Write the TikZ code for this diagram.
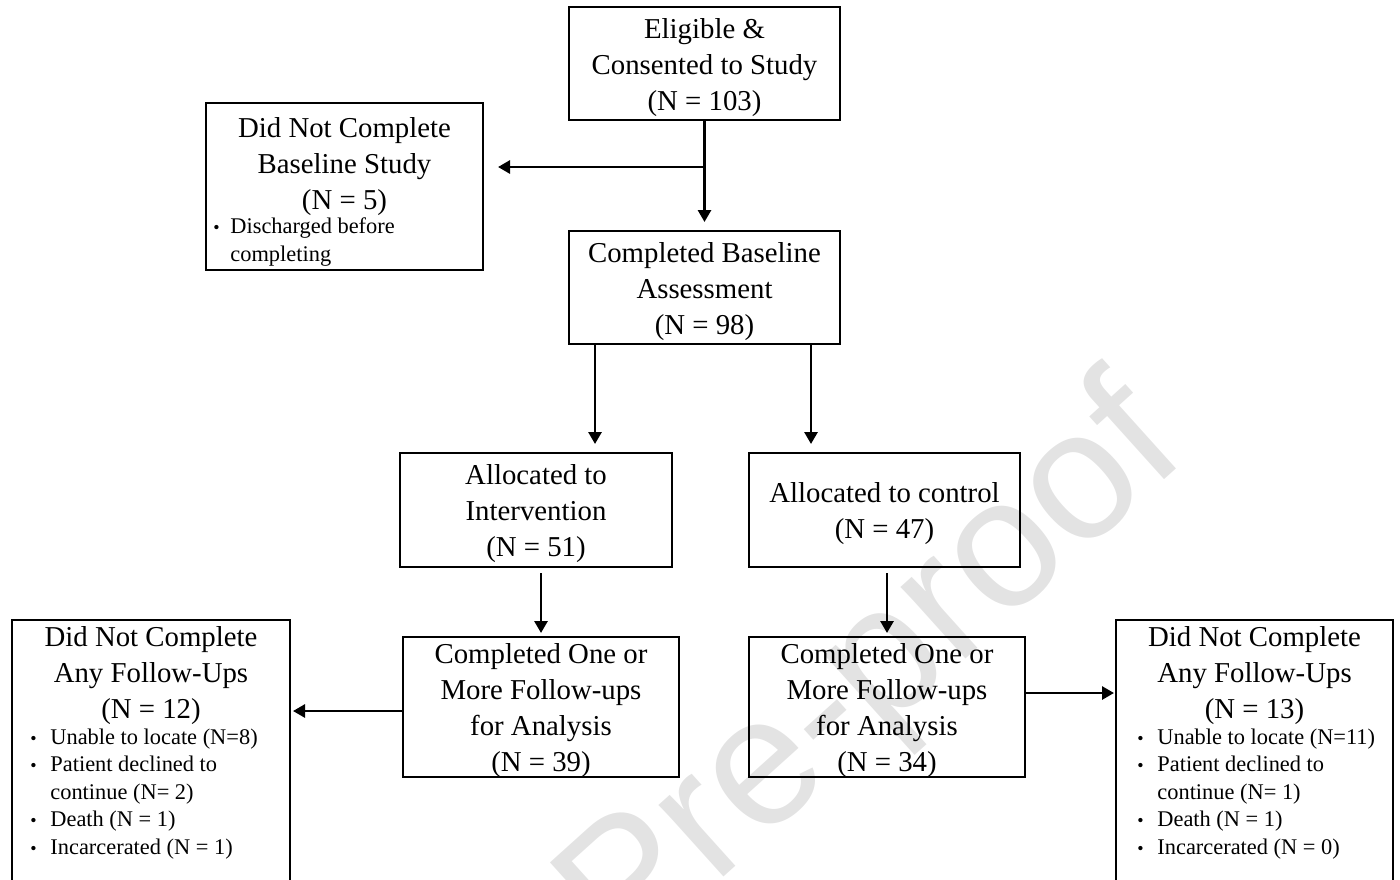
\documentclass[tikz,border=0pt]{standalone}
\usepackage{fontspec}
\setmainfont{Liberation Serif}
\newfontfamily\wmfont{Liberation Sans}
\usetikzlibrary{arrows.meta}
\newcommand{\bul}{\makebox[10pt][l]{\fontsize{9}{9}\selectfont •}}
\newcommand{\bulb}{\makebox[8.5pt][l]{\fontsize{9}{9}\selectfont •}}
\begin{document}
\begin{tikzpicture}[x=0.5pt,y=-0.5pt,
  flowbox/.style={draw=black, line width=0.9pt, inner sep=0pt, outer sep=0pt},
  hd/.style={align=center, inner sep=0pt, font=\fontsize{14.4}{18}\selectfont},
  hdt/.style={hd, yshift=-1.8pt},
  bl/.style={align=left, inner sep=0pt, anchor=west, yshift=-1pt, font=\fontsize{11.2}{13.75}\selectfont},
  arr/.style={line width=1.4pt, -{Triangle[length=6pt,width=6.5pt]}}]
\useasboundingbox (0,0) rectangle (1400,879);
\clip (0,0) rectangle (1400,879);
% watermark
\node[anchor=base east, rotate=42, text=black!11, inner sep=0pt,
      font=\wmfont\fontsize{91.5}{100}\selectfont] (wm) at (1191,456) {Journal Pre-proof};
% boxes
\node[flowbox, minimum width=135.5pt, minimum height=56.5pt] (elig) at (704.5,63.5) {};
\node[hdt] (eligT) at (elig.center) {Eligible \&\\Consented to Study\\(N = 103)};
\node[flowbox, minimum width=135.5pt, minimum height=56.5pt] (cb) at (704.5,287.5) {};
\node[hdt] (cbT) at (cb.center) {Completed Baseline\\Assessment\\(N = 98)};
\node[flowbox, minimum width=138.5pt, minimum height=83.5pt] (dnb) at (344.5,186.5) {};
\node[hdt] (dnbH) at (344.5,163) {Did Not Complete\\Baseline Study\\(N = 5)};
\node[bl] (dnbL) at (213,240) {\bulb Discharged before\\\hspace*{8.5pt}completing};
\node[flowbox, minimum width=136pt, minimum height=57pt] (int) at (536,510) {};
\node[hdt] (intT) at (int.center) {Allocated to\\Intervention\\(N = 51)};
\node[flowbox, minimum width=135.5pt, minimum height=57pt] (ctl) at (884.5,510) {};
\node[hdt] (ctlT) at (ctl.center) {Allocated to control\\(N = 47)};
\node[flowbox, minimum width=138pt, minimum height=70pt] (col) at (541,707) {};
\node[hdt] (colT) at (col.center) {Completed One or\\More Follow-ups\\for Analysis\\(N = 39)};
\node[flowbox, minimum width=138pt, minimum height=70pt] (cor) at (887,707) {};
\node[hdt] (corT) at (cor.center) {Completed One or\\More Follow-ups\\for Analysis\\(N = 34)};
\node[flowbox, minimum width=139pt, minimum height=140pt] (dnl) at (151,760) {};
\node[hdt] (dnlH) at (151,672) {Did Not Complete\\Any Follow-Ups\\(N = 12)};
\node[bl] (dnlL) at (30,792) {\bul Unable to locate (N=8)\\\bul Patient declined to\\\hspace*{10pt}continue (N= 2)\\\bul Death (N = 1)\\\bul Incarcerated (N = 1)};
\node[flowbox, minimum width=138.5pt, minimum height=140pt] (dnr) at (1254.5,760) {};
\node[hdt] (dnrH) at (1254.5,672) {Did Not Complete\\Any Follow-Ups\\(N = 13)};
\node[bl] (dnrL) at (1137,792) {\bul Unable to locate (N=11)\\\bul Patient declined to\\\hspace*{10pt}continue (N= 1)\\\bul Death (N = 1)\\\bul Incarcerated (N = 0)};
% connectors
\draw[arr, shorten >=4.5pt] (elig.south) -- (cb.north);
\coordinate (br) at ([yshift=-23.5pt]elig.south);
\draw[arr, shorten >=7.5pt] (br) -- (br -| dnb.east);
\coordinate (cbL) at ([xshift=-54.75pt]cb.south);
\coordinate (cbR) at ([xshift=53.25pt]cb.south);
\draw[arr, shorten >=4.5pt] (cbL) -- (cbL |- int.north);
\draw[arr, shorten >=4.5pt] (cbR) -- (cbR |- ctl.north);
\draw[arr, shorten <=3pt, shorten >=2pt] (col.north |- int.south) -- (col.north);
\draw[arr, shorten <=3pt, shorten >=2pt] (cor.north |- ctl.south) -- (cor.north);
\coordinate (colW) at ([yshift=-2pt]col.west);
\draw[arr, shorten >=1.5pt] (colW) -- (colW -| dnl.east);
\coordinate (corE) at ([yshift=7pt]cor.east);
\draw[arr, shorten >=1pt] (corE) -- (corE -| dnr.west);
\end{tikzpicture}
\end{document}
